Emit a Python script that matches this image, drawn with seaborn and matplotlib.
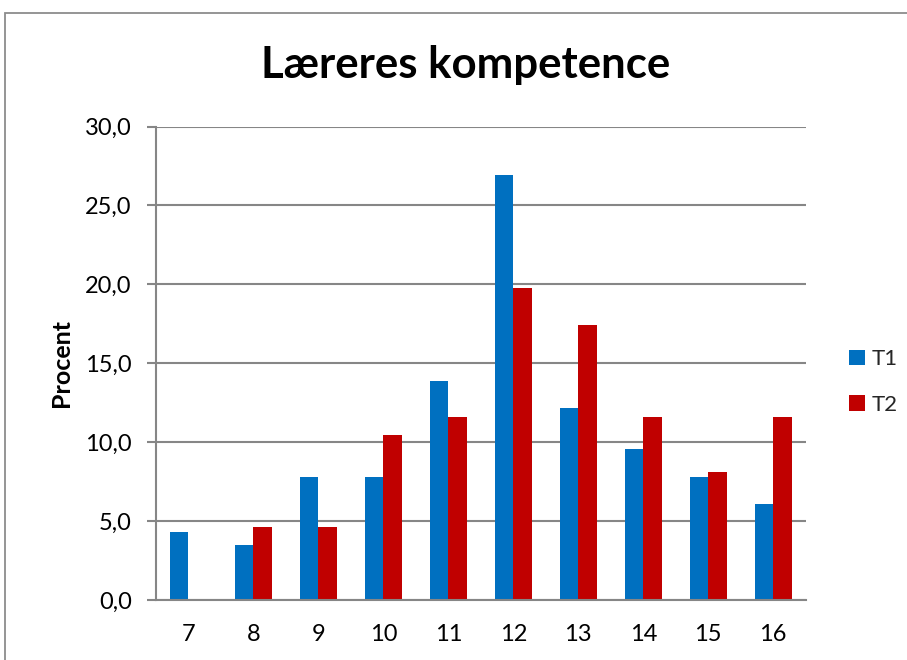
import matplotlib
matplotlib.use("Agg")
import matplotlib.pyplot as plt
from matplotlib.patches import Rectangle, Patch
import seaborn as sns
import pandas as pd

# Data: share of answers (percent) per score, two measurement rounds
categories = ["7", "8", "9", "10", "11", "12", "13", "14", "15", "16"]
t1_values = [4.35, 3.48, 7.83, 7.83, 13.91, 26.96, 12.17, 9.57, 7.83, 6.09]
t2_values = [0.0, 4.65, 4.65, 10.47, 11.63, 19.77, 17.44, 11.63, 8.14, 11.63]
series_names = ["T1", "T2"]
y_ticks = [0, 5, 10, 15, 20, 25, 30]
y_tick_labels = ["0,0", "5,0", "10,0", "15,0", "20,0", "25,0", "30,0"]
title = "Læreres kompetence"
y_label = "Procent"

colors = {"T1": "#0070C0", "T2": "#C00000"}
grid_gray = "#868686"

df = pd.DataFrame({
    "score": categories * 2,
    "value": t1_values + t2_values,
    "series": [series_names[0]] * len(categories) + [series_names[1]] * len(categories),
})

sns.set_theme(style="white")
plt.rcParams["font.family"] = ["Lato", "DejaVu Sans"]

W, H = 907, 660
fig = plt.figure(figsize=(W / 100, H / 100), dpi=100)
fig.patch.set_facecolor("white")

# outer chart frame
fig.add_artist(Rectangle((5 / W, -0.1), 1.2, 1 - 13 / H + 0.1,
                         transform=fig.transFigure, fill=False,
                         edgecolor="#8c8c8c", linewidth=1.3))

left, right, top, bottom = 156, 805.7, 126.5, 600.3
ax = fig.add_axes([left / W, (H - bottom) / H, (right - left) / W, (bottom - top) / H])

sns.barplot(data=df, x="score", y="value", hue="series", order=categories,
            hue_order=series_names, palette=colors, width=0.57, gap=0,
            saturation=1, linewidth=0, ax=ax, legend=False)

ax.set_ylim(0, 30)
ax.set_yticks(y_ticks)
ax.set_yticklabels(y_tick_labels)
ax.set_xlim(-0.5, len(categories) - 0.5)
ax.grid(axis="y", color=grid_gray, linewidth=1.5)
ax.set_axisbelow(True)

for side in ["top", "right"]:
    ax.spines[side].set_visible(False)
for side in ["left", "bottom"]:
    ax.spines[side].set_color(grid_gray)
    ax.spines[side].set_linewidth(1.5)

ax.tick_params(axis="y", which="major", direction="out", length=6.5,
               width=1.5, color=grid_gray, labelsize=17, pad=11, labelcolor="black", left=True)
ax.tick_params(axis="x", length=0, labelsize=17, pad=17, labelcolor="black")
ax.set_xlabel("")
ax.set_ylabel(y_label, fontsize=18, fontweight="bold", color="black")
ax.yaxis.set_label_coords((73 - left) / (right - left), 0.5)

fig.text(466 / W, 1 - 65 / H, title, ha="center", va="center",
         fontsize=31.5, fontweight="bold", color="black")

handles = [Patch(facecolor=colors[s], edgecolor="none") for s in series_names]
fig.legend(handles, series_names, loc="center left",
           bbox_to_anchor=(829 / W, 1 - 382 / H), frameon=False,
           fontsize=16, handlelength=0.7, handleheight=0.7,
           handletextpad=0.3, labelspacing=1.15)

fig.savefig("out.png", dpi=100, facecolor="white")
